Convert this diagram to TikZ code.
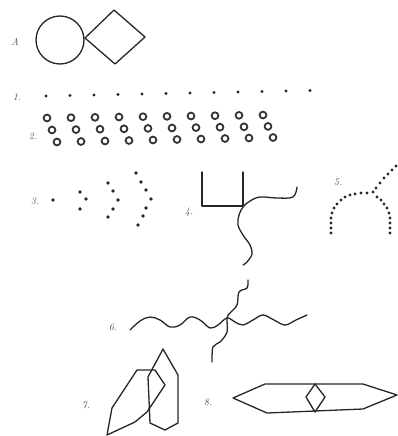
\documentclass[tikz,border=0pt]{standalone}
\begin{document}
\begin{tikzpicture}[x=1pt,y=-1pt,
  fig/.style={draw=black!85,line width=1.3pt,line join=round,line cap=round},
  lab/.style={font=\itshape\normalsize,text=black!70,inner sep=0pt},
  dotsty/.style={fill=black!85},
  ring/.style={draw=black!80,line width=1.8pt}]
\useasboundingbox (0,0) rectangle (398,436);
% labels
\node[lab] (lA) at (15,42) {A};
\node[lab] (l1) at (17,97) {1.};
\node[lab] (l2) at (33,136) {2.};
\node[lab] (l3) at (35,201) {3.};
\node[lab] (l4) at (189,212) {4.};
\node[lab] (l5) at (338,182) {5.};
\node[lab] (l6) at (113,327) {6.};
\node[lab] (l7) at (86,405) {7.};
\node[lab] (l8) at (208,402) {8.};
% A
\draw[fig] (60,40) circle (24);
\draw[fig] (85,38) -- (114,10) -- (145,37) -- (115,64) -- cycle;
% 1
\foreach \i in {0,...,11} \fill[dotsty] (46+24*\i,96-0.5*\i) circle (1.6);
% 2
\foreach \i in {0,...,9} {
  \draw[ring] (47+24*\i,118-0.33*\i) circle (3.4);
  \draw[ring] (52+24*\i,130-0.4*\i) circle (3.4);
  \draw[ring] (57+24*\i,142-0.5*\i) circle (3.4);
}
% 3
\foreach \p in {(53,200),(80,192),(86,199),(80,209),
  (108,183),(113,191),(118,200),(113,209),(108,217),
  (136,173),(141,182),(146,190),(151,199),(146,208),(143,216),(138,225)}
  \fill[dotsty] \p circle (1.8);
% 4
\draw[fig] (202,172) -- (202,206) -- (243,206) -- (243,172);
\draw[fig] plot[smooth,tension=0.6] coordinates {(297,187) (293,197) (277,198) (260,197) (250,201) (243,207) (239,215) (238,225) (243,235) (250,245) (252,254) (247,262) (243,265)};
% 5
\foreach \p in {(373,192),(376,188),(380,183),(384,178),(388,174),(392,170),(396,166),
  (367,193),(361,193),(355,194),(350,195),(345,197),(341,200),(337,204),(334,208),(332,213),(331,218),(331,223),(331,228),(331,233),
  (377,197),(381,200),(384,204),(387,208),(389,213),(390,218),(390,223),(390,228),(390,233)}
  \fill[dotsty] \p circle (1.6);
% 6
\draw[fig] plot[smooth,tension=0.6] coordinates {(130,330) (140,321) (150,317) (160,320) (170,327) (180,325) (190,317) (200,320) (210,328) (218,325) (227,318) (235,322) (243,325) (253,320) (263,315) (274,320) (285,325) (296,320) (307,315)};
\draw[fig] plot[smooth,tension=0.6] coordinates {(248,280) (247,288) (239,292) (237,305) (230,313) (227,318) (227,332) (220,342) (213,347) (212,362)};
% 7
\draw[fig] (107,435) -- (112,408) -- (137,370) -- (155,370) -- (165,385) -- (147,412) -- (135,422) -- cycle;
\draw[fig] (163,349) -- (178,375) -- (178,423) -- (165,430) -- (150,423) -- (148,377) -- cycle;
% 8
\draw[fig] (233,398) -- (265,384) -- (363,384) -- (397,395) -- (363,409) -- (267,413) -- cycle;
\draw[fig] (315,384) -- (325,397) -- (315,412) -- (306,397) -- cycle;
\end{tikzpicture}
\end{document}
